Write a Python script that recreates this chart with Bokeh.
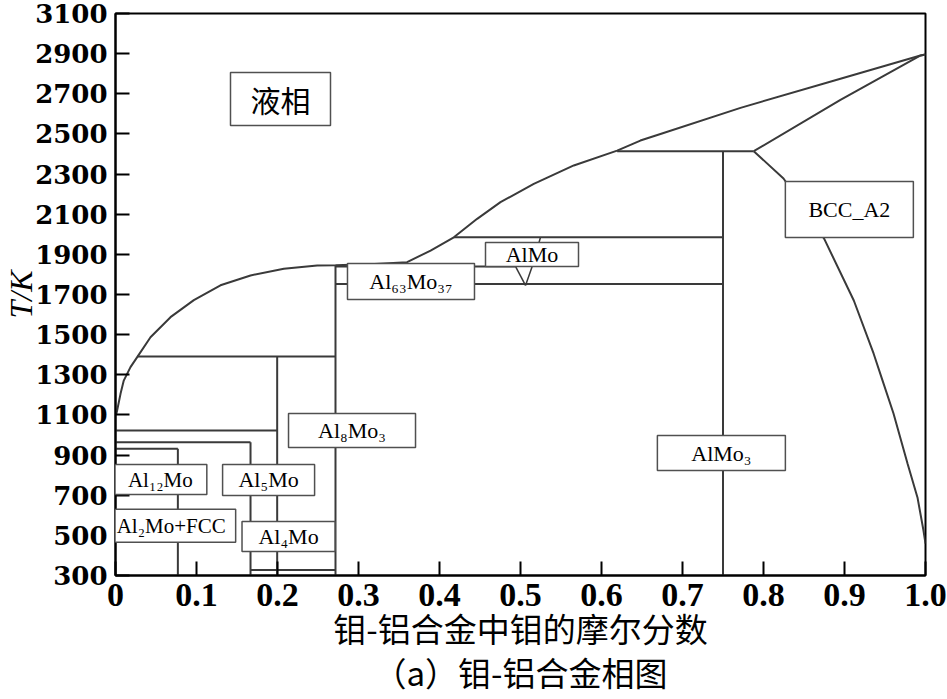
import numpy as np
from bokeh.plotting import figure
from bokeh.models import Range1d, FixedTicker, Label, BoxAnnotation, BasicTickFormatter
from bokeh.embed import file_html
from bokeh.resources import INLINE

# ---------------- data ----------------
# liquidus
liq_x = [0.001, 0.002, 0.0062, 0.0102, 0.0185, 0.0268, 0.0432, 0.0679, 0.0967, 0.1296, 0.1667,
         0.2078, 0.249, 0.2716, 0.32, 0.36, 0.389, 0.4177, 0.4465, 0.4753, 0.5164, 0.5658,
         0.6193, 0.648, 0.6728, 0.7716, 0.895, 0.9938, 1.0]
liq_T = [1105, 1122, 1205, 1271, 1338, 1388, 1487, 1587, 1672, 1746, 1795,
         1828, 1844, 1846, 1852, 1861, 1919, 1985, 2077, 2160, 2251, 2343,
         2417, 2467, 2500, 2630, 2775, 2891, 2896]
# BCC solidus
sol_x = [0.788, 0.895, 0.994, 1.0]
sol_T = [2414, 2670, 2891, 2896]
# BCC solvus
solv_x = [0.788, 0.8247, 0.852, 0.875, 0.9115, 0.936, 0.947, 0.9605, 0.9778, 0.9901, 0.9975, 1.0]
solv_T = [2414, 2278, 2120, 1977, 1670, 1405, 1271, 1107, 858, 689, 524, 459]
# isotherms (horizontal lines)
iso_T = [2414, 1985, 1840, 1752, 1391, 1022, 964, 931, 328]
iso_x0 = [0.6193, 0.4177, 0.2716, 0.2716, 0.0268, 0.0, 0.0, 0.0, 0.1667]
iso_x1 = [0.788, 0.75, 0.4938, 0.75, 0.2716, 0.1996, 0.1667, 0.077, 0.2716]
# compound lines (vertical)
comp_x = [0.077, 0.1667, 0.1996, 0.2716, 0.75]
comp_T0 = [300, 300, 300, 300, 300]
comp_T1 = [931, 964, 1391, 1846, 2414]
# AlMo phase boundaries
almo_l_x = [0.4938, 0.5062]
almo_l_T = [1840, 1745]
almo_r_x = [0.5247, 0.5144, 0.5062]
almo_r_T = [1985, 1840, 1745]

# phase labels
phase_text = ["液相", "Al₁₂Mo", "Al₅Mo", "Al₂Mo+FCC", "Al₄Mo", "Al₈Mo₃",
              "Al₆₃Mo₃₇", "AlMo", "AlMo₃", "BCC_A2"]
phase_x = [0.2037, 0.0504, 0.189, 0.0613, 0.2136, 0.292, 0.3648, 0.5142, 0.748, 0.906]
phase_T = [2674, 778, 776, 548, 494, 1022, 1765, 1899, 910, 2123]

x_ticks = [0, 0.1, 0.2, 0.3, 0.4, 0.5, 0.6, 0.7, 0.8, 0.9, 1.0]
y_ticks = [300, 500, 700, 900, 1100, 1300, 1500, 1700, 1900, 2100, 2300, 2500, 2700, 2900, 3100]

x_title = "钼-铝合金中钼的摩尔分数"
caption = "（a）钼-铝合金相图"
y_title = "T/K"

# ---------------- figure ----------------
X0, X1, Y0, Y1 = 0.0, 1.0, 300, 3100
W, H = 947, 699
ML, MR, MT, MB = 115, 22, 13, 124
PX_X = (W - ML - MR) / (X1 - X0)
PX_T = (H - MT - MB) / (Y1 - Y0)

p = figure(width=W, height=H, output_backend="svg", toolbar_location=None,
           x_range=Range1d(X0, X1), y_range=Range1d(Y0, Y1),
           min_border_left=ML, min_border_right=MR, min_border_top=MT, min_border_bottom=MB)
p.background_fill_color = "white"
p.border_fill_color = "white"
p.outline_line_color = "black"
p.outline_line_width = 2
p.xgrid.visible = False
p.ygrid.visible = False

LC = "#3a3a3a"
LW = 2

p.segment(x0=iso_x0, y0=iso_T, x1=iso_x1, y1=iso_T, line_color=LC, line_width=LW)
p.segment(x0=comp_x, y0=comp_T0, x1=comp_x, y1=comp_T1, line_color=LC, line_width=LW)
p.line(liq_x, liq_T, line_color=LC, line_width=LW)
p.line(sol_x, sol_T, line_color=LC, line_width=LW)
p.line(solv_x, solv_T, line_color=LC, line_width=LW)
p.line(almo_l_x, almo_l_T, line_color=LC, line_width=1.5)
p.line(almo_r_x, almo_r_T, line_color=LC, line_width=1.5)

# label boxes (pixel sizes, pixel nudges) and texts
box_w = [100, 93, 92, 129, 93, 127, 127, 93, 128, 128]
box_h = [53, 30, 31, 33, 30, 34, 36, 24, 35, 56]
nudge = [0, 4, 0, 6, 0, 0, 0, 0, 0, 0]
for t, x, y, bw, bh, n in zip(phase_text, phase_x, phase_T, box_w, box_h, nudge):
    dx = bw / 2 / PX_X
    dy = bh / 2 / PX_T
    xc = x + n / PX_X
    p.add_layout(BoxAnnotation(left=xc - dx, right=xc + dx, bottom=y - dy, top=y + dy,
                               fill_color="white", fill_alpha=1.0,
                               line_color="#505050", line_alpha=1.0, line_width=1.5,
                               level="annotation"))
for t, x, y, n in zip(phase_text, phase_x, phase_T, nudge):
    cjk = t == "液相"
    p.add_layout(Label(x=x + n / PX_X, y=y, text=t, text_align="center", text_baseline="middle",
                       text_font="Noto Sans CJK SC" if cjk else "Liberation Serif",
                       text_font_size="30px" if cjk else ("21px" if n else "22px"),
                       text_color="black"))

# axes
for ax in (p.xaxis[0], p.yaxis[0]):
    ax.axis_line_width = 2
    ax.axis_line_color = "black"
    ax.major_tick_in = 14
    ax.major_tick_out = 0
    ax.minor_tick_in = 0
    ax.minor_tick_out = 0
    ax.major_tick_line_width = 2
    ax.major_tick_line_color = "black"
    ax.major_label_text_color = "black"
    ax.major_label_standoff = 8
    ax.axis_label_text_color = "black"

p.xaxis.ticker = FixedTicker(ticks=x_ticks)
p.xaxis.formatter = BasicTickFormatter(precision=1)
p.xaxis.major_label_overrides = {0: "0", 1: "1.0"}
p.xaxis.major_label_text_font = "Liberation Serif"
p.xaxis.major_label_text_font_style = "bold"
p.xaxis.major_label_text_font_size = "34px"
p.xaxis.axis_label = x_title + "\n" + caption
p.xaxis.axis_label_text_font = "Noto Sans CJK SC"
p.xaxis.axis_label_text_font_style = "normal"
p.xaxis.axis_label_text_font_size = "33px"
p.xaxis.axis_label_text_line_height = 0.93
p.xaxis.axis_label_standoff = -5

p.yaxis.ticker = FixedTicker(ticks=y_ticks)
p.yaxis.major_label_text_font = "DejaVu Serif"
p.yaxis.major_label_text_font_style = "bold"
p.yaxis.major_label_text_font_size = "26px"
p.yaxis.axis_label = y_title
p.yaxis.axis_label_text_font = "Liberation Serif"
p.yaxis.axis_label_text_font_style = "italic"
p.yaxis.axis_label_text_font_size = "32px"
p.yaxis.axis_label_standoff = -7

open("out.html", "w").write(file_html(p, INLINE))
